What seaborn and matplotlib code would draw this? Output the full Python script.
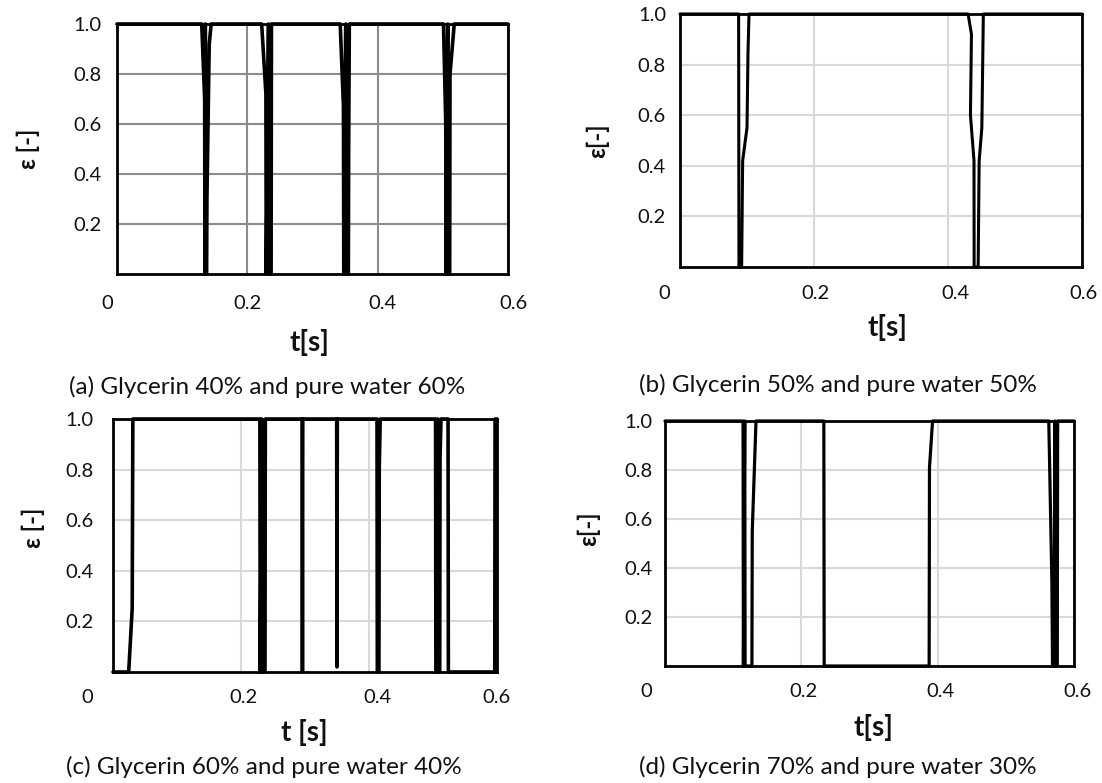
import pandas as pd
import matplotlib
matplotlib.use("Agg")
import matplotlib.pyplot as plt
import matplotlib.transforms as mtransforms
import seaborn as sns

# ------------------------------------------------------------
# data: void fraction signal eps [-] vs time t [s]
# ------------------------------------------------------------
t_a = [0.0, 0.130, 0.1345, 0.135, 0.1355, 0.136, 0.1375, 0.138, 0.1415, 0.1445,
       0.222, 0.2285, 0.229, 0.2325, 0.233, 0.2365, 0.237, 0.2395,
       0.3425, 0.3475, 0.348, 0.351, 0.3515, 0.355, 0.3555, 0.3565,
       0.501, 0.5045, 0.505, 0.5075, 0.508, 0.5105, 0.511, 0.5175, 0.6]
eps_a = [1.0, 1.0, 0.70, 0.0, 1.0, 0.0, 0.0, 0.30, 0.92, 1.0,
         1.0, 0.72, 0.0, 1.0, 0.0, 0.0, 1.0, 1.0,
         1.0, 0.67, 0.0, 1.0, 0.0, 0.0, 0.50, 1.0,
         1.0, 0.60, 0.0, 1.0, 0.0, 0.0, 0.80, 1.0, 1.0]

t_b = [0.0, 0.0875, 0.088, 0.092, 0.0935, 0.100, 0.1015, 0.103,
       0.430, 0.435, 0.4335, 0.4388, 0.439, 0.445, 0.4465, 0.4505, 0.4525, 0.4527, 0.6]
eps_b = [1.0, 1.0, 0.0, 0.0, 0.42, 0.55, 0.85, 1.0,
         1.0, 0.92, 0.60, 0.42, 0.0, 0.0, 0.42, 0.55, 0.95, 1.0, 1.0]

t_c = [0.0, 0.0245, 0.030, 0.031,
       0.2295, 0.230, 0.2325, 0.233, 0.2375, 0.238,
       0.2955, 0.296, 0.2965,
       0.3495, 0.350, 0.3505,
       0.4125, 0.413, 0.4155, 0.416, 0.4175,
       0.504, 0.5045, 0.507, 0.5075, 0.508, 0.5105, 0.511, 0.5125,
       0.5235, 0.524, 0.5965, 0.597, 0.6]
eps_c = [0.0, 0.0, 0.25, 1.0,
         1.0, 0.0, 1.0, 0.0, 0.0, 1.0,
         1.0, 0.0, 1.0,
         1.0, 0.02, 1.0,
         1.0, 0.0, 0.0, 0.80, 1.0,
         1.0, 0.0, 0.0, 1.0, 0.0, 0.0, 0.85, 1.0,
         1.0, 0.0, 0.0, 1.0, 1.0]

t_d = [0.0, 0.1145, 0.115, 0.117, 0.1175, 0.1275, 0.128, 0.1335,
       0.233, 0.2335, 0.3875, 0.388, 0.3925,
       0.563, 0.5675, 0.5685, 0.5715, 0.572, 0.5725, 0.5755, 0.576, 0.6]
eps_d = [1.0, 1.0, 0.0, 1.0, 0.0, 0.0, 0.55, 1.0,
         1.0, 0.0, 0.0, 0.81, 1.0,
         1.0, 0.35, 0.0, 0.0, 1.0, 0.0, 0.0, 1.0, 1.0]

captions = ["(a) Glycerin 40% and pure water 60%",
            "(b) Glycerin 50% and pure water 50%",
            "(c) Glycerin 60% and pure water 40%",
            "(d) Glycerin 70% and pure water 30%"]
x_labels = ["t[s]", "t[s]", "t [s]", "t[s]"]
y_labels = ["ε [-]", "ε[-]", "ε [-]", "ε[-]"]
x_ticks = [0, 0.2, 0.4, 0.6]
x_ticklabels = ["0", "0.2", "0.4", "0.6"]
y_ticks = [0.2, 0.4, 0.6, 0.8, 1.0]
y_ticklabels = ["0.2", "0.4", "0.6", "0.8", "1.0"]

# ------------------------------------------------------------
# style
# ------------------------------------------------------------
sns.set_theme(style="white")
plt.rcParams["font.family"] = ["Lato", "DejaVu Sans"]
TXT = "#111111"

W, H = 1102, 783
fig = plt.figure(figsize=(W / 100, H / 100), dpi=100)


def rect(x0, y0, x1, y1):
    return [x0 / W, 1 - y1 / H, (x1 - x0) / W, (y1 - y0) / H]


panels = [
    dict(t=t_a, eps=eps_a, box=(117, 24, 508, 274), grid="#8c8c8c", lw=2.6,
         xoff=[-10, 0, 5, 5], xpad=15, ypad=11, ylab=(-0.228, 0.50), xlab=(0.491, -0.272),
         cap=(267, 387)),
    dict(t=t_b, eps=eps_b, box=(680, 14, 1082, 267), grid="#d9d9d9", lw=2.2,
         xoff=[-16, 2, 7, 2], xpad=13, ypad=10, ylab=(-0.206, 0.50), xlab=(0.515, -0.241),
         cap=(838, 385)),
    dict(t=t_c, eps=eps_c, box=(113, 419, 497, 672), grid="#d9d9d9", lw=2.6,
         xoff=[-26, 3, 9, 0], xpad=12, ypad=14, ylab=(-0.207, 0.57), xlab=(0.499, -0.241),
         cap=(264, 767)),
    dict(t=t_d, eps=eps_d, box=(665, 421, 1074, 666), grid="#d9d9d9", lw=2.3,
         xoff=[-19, 2, 3, 4], xpad=12, ypad=9, ylab=(-0.186, 0.56), xlab=(0.509, -0.249),
         cap=(838, 767)),
]

for i, p in enumerate(panels):
    ax = fig.add_axes(rect(*p["box"]))
    df = pd.DataFrame({"t": p["t"], "eps": p["eps"]})
    sns.lineplot(data=df, x="t", y="eps", sort=False, estimator=None,
                 color="black", linewidth=p["lw"], ax=ax)
    for ln in ax.lines:
        ln.set_clip_on(False)

    ax.set_xlim(0, 0.6)
    ax.set_ylim(0, 1)
    ax.set_xticks(x_ticks)
    ax.set_xticklabels(x_ticklabels)
    ax.set_yticks(y_ticks)
    ax.set_yticklabels(y_ticklabels)
    ax.tick_params(axis="x", length=0, pad=p["xpad"], labelsize=14.5, labelcolor=TXT)
    ax.tick_params(axis="y", length=0, pad=p["ypad"], labelsize=14.5, labelcolor=TXT)
    for lab, dx in zip(ax.get_xticklabels(), p["xoff"]):
        lab.set_transform(lab.get_transform() +
                          mtransforms.ScaledTranslation(dx / 100, 0, fig.dpi_scale_trans))

    ax.grid(True, color=p["grid"], linewidth=1.5)
    ax.set_axisbelow(True)
    for s in ax.spines.values():
        s.set_visible(True)
        s.set_color("black")
        s.set_linewidth(2.0)

    ax.set_xlabel(x_labels[i], fontsize=20, fontweight="bold", color=TXT)
    ax.xaxis.set_label_coords(*p["xlab"])
    ax.xaxis.label.set_va("center")
    ax.set_ylabel(y_labels[i], fontsize=17, fontweight="bold", color=TXT)
    ax.yaxis.set_label_coords(*p["ylab"])
    ax.yaxis.label.set_va("center")

    fig.text(p["cap"][0] / W, 1 - p["cap"][1] / H, captions[i],
             ha="center", va="center", fontsize=17.5, color=TXT)

fig.savefig("out.png", dpi=100, facecolor="white")
